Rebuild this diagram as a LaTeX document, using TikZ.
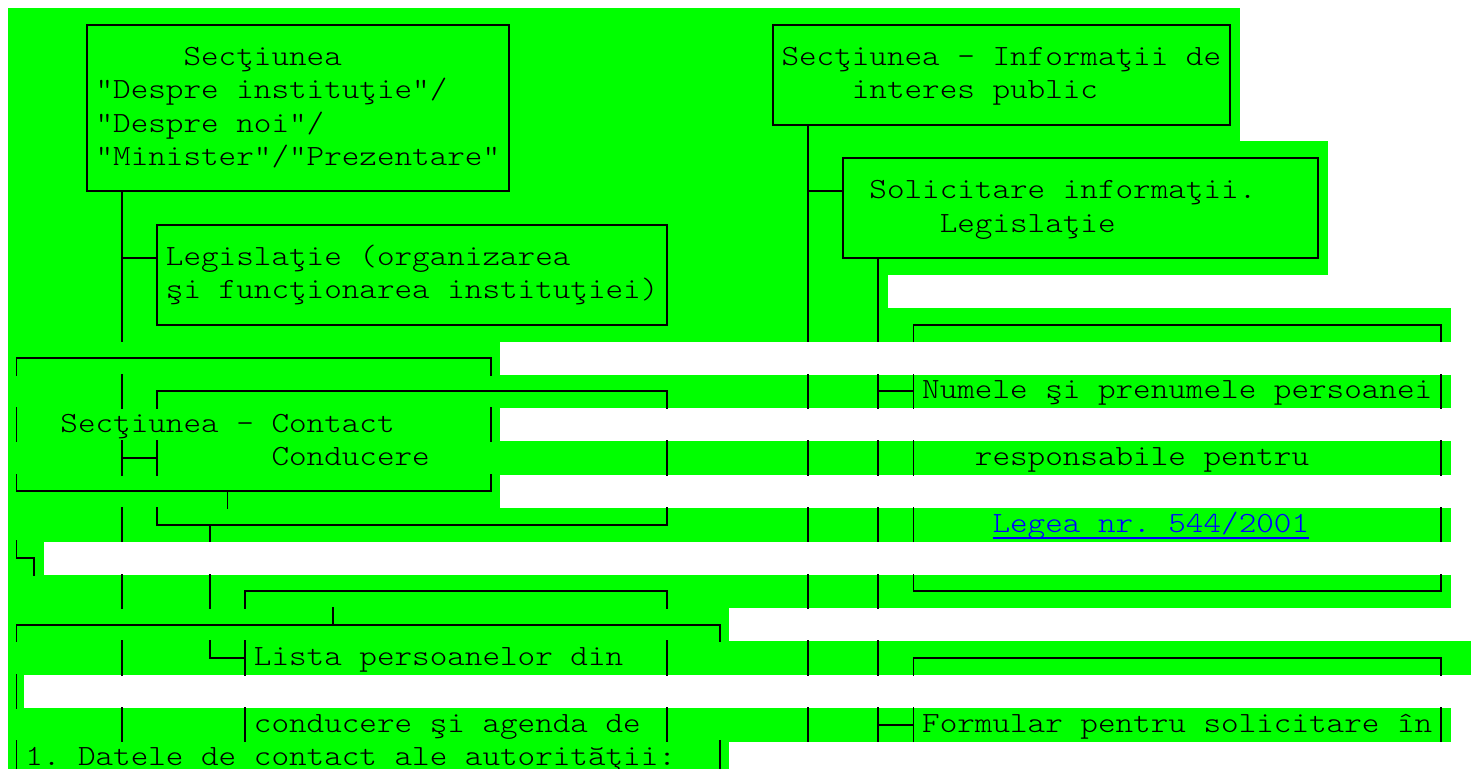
\documentclass[tikz,border=0pt]{standalone}
\usepackage{fontspec}
\newfontfamily\cmono{lmmonolt10-regular.otf}[FakeStretch=1.1429]
\definecolor{hl}{RGB}{0,255,0}
\definecolor{lnkc}{RGB}{0,0,255}
\newcommand\cX[1]{16.5+17.586*(#1)}
\newcommand\rT[1]{8+33.333*(#1)}
\newcommand\rC[1]{24.667+33.333*(#1)}
\newcommand\rB[1]{41.333+33.333*(#1)}
\newcommand\bxV[2]{\draw[ln] ({\cX{#1}},{\rT{#2}}) -- ({\cX{#1}},{\rB{#2}});}
\newcommand\bxD[2]{\draw[ln] ({\cX{#1}},{\rC{#2}}) -- ({\cX{#1}},{\rB{#2}});}
\newcommand\bxU[2]{\draw[ln] ({\cX{#1}},{\rT{#2}}) -- ({\cX{#1}},{\rC{#2}});}
\newcommand\bxH[3]{\draw[ln] ({\cX{#1}},{\rC{#3}}) -- ({\cX{#2}},{\rC{#3}});}
\newcommand\bxTop[3]{\draw[ln] ({\cX{#1}},{\rB{#3}}) -- ({\cX{#1}},{\rC{#3}}) -- ({\cX{#2}},{\rC{#3}}) -- ({\cX{#2}},{\rB{#3}});}
\newcommand\bxBot[3]{\draw[ln] ({\cX{#1}},{\rT{#3}}) -- ({\cX{#1}},{\rC{#3}}) -- ({\cX{#2}},{\rC{#3}}) -- ({\cX{#2}},{\rT{#3}});}
\newcommand\gRow[2]{\fill[hl] (8,{\rT{#1}}) rectangle (#2,{\rT{#1}+33.6});}
\newcommand\tX[4]{\node[txt] (#1) at ({7.707+17.586*(#2)},{32.167+33.333*(#3)}) {#4};}
\tikzset{
  ln/.style={line width=1.8pt, black, line cap=rect},
  txt/.style={inner sep=0pt, outer sep=0pt, anchor=base west,
    font=\cmono\fontsize{29.31}{33.33}\selectfont\frenchspacing},
  lnkline/.style={line width=1.8pt, lnkc}
}
\begin{document}
\begin{tikzpicture}[x=1pt,y=-1pt]
\useasboundingbox (0,0) rectangle (1471,768);
\fill[white] (0,0) rectangle (1471,768);
% green highlight rows
\gRow{0}{1240}\gRow{1}{1240}\gRow{2}{1240}\gRow{3}{1240}
\gRow{4}{1328}\gRow{5}{1328}\gRow{6}{1328}\gRow{7}{1328}
\gRow{8}{888}\gRow{9}{1451}\gRow{10}{500}\gRow{11}{1451}
\gRow{12}{500}\gRow{13}{1451}\gRow{14}{500}\gRow{15}{1451}
\gRow{16}{44}\gRow{17}{1451}\gRow{18}{729}\gRow{19}{1471}
\gRow{20}{24}\gRow{21}{1451}\gRow{22}{729}
% ---------- left column ----------
\bxTop{4}{28}{0}
\bxV{4}{1}\bxV{28}{1}\bxV{4}{2}\bxV{28}{2}\bxV{4}{3}\bxV{28}{3}\bxV{4}{4}\bxV{28}{4}
\bxBot{4}{28}{5}\bxD{6}{5}
\bxV{6}{6}\bxTop{8}{37}{6}
\bxV{6}{7}\bxH{6}{8}{7}\bxV{8}{7}\bxV{37}{7}
\bxV{6}{8}\bxV{8}{8}\bxV{37}{8}
\bxV{6}{9}\bxBot{8}{37}{9}
\bxTop{0}{27}{10}
\bxV{6}{11}\bxTop{8}{37}{11}
\bxV{0}{12}\bxV{27}{12}
\bxV{6}{13}\bxH{6}{8}{13}\bxV{8}{13}\bxV{37}{13}
\bxBot{0}{27}{14}\bxD{12}{14}
\bxV{6}{15}\bxBot{8}{37}{15}\bxD{11}{15}
\draw[ln] ({\cX{0}},{\rT{16}}) -- ({\cX{0}},{\rC{16}}) -- ({\cX{1}},{\rC{16}}) -- ({\cX{1}},{\rB{16}});
\bxV{6}{17}\bxV{11}{17}\bxTop{13}{37}{17}
\bxTop{0}{40}{18}\bxU{18}{18}
\bxV{6}{19}\draw[ln] ({\cX{11}},{\rT{19}}) -- ({\cX{11}},{\rC{19}}) -- ({\cX{13}},{\rC{19}});
\bxV{13}{19}\bxV{37}{19}
\bxV{0}{20}
\bxV{6}{21}\bxV{13}{21}\bxV{37}{21}
\bxV{0}{22}\bxV{40}{22}
% ---------- right column ----------
\bxTop{43}{69}{0}
\bxV{43}{1}\bxV{69}{1}\bxV{43}{2}\bxV{69}{2}
\bxBot{43}{69}{3}\bxD{45}{3}
\bxV{45}{4}\bxTop{47}{74}{4}
\bxV{45}{5}\bxH{45}{47}{5}\bxV{47}{5}\bxV{74}{5}
\bxV{45}{6}\bxV{47}{6}\bxV{74}{6}
\bxV{45}{7}\bxBot{47}{74}{7}\bxD{49}{7}
\bxV{45}{8}\bxV{49}{8}
\bxV{45}{9}\bxV{49}{9}\bxTop{51}{81}{9}
\bxV{45}{11}\bxV{49}{11}\bxH{49}{51}{11}\bxV{51}{11}\bxV{81}{11}
\bxV{45}{13}\bxV{49}{13}\bxV{51}{13}\bxV{81}{13}
\bxV{45}{15}\bxV{49}{15}\bxV{51}{15}\bxV{81}{15}
\bxV{45}{17}\bxV{49}{17}\bxBot{51}{81}{17}
\bxV{45}{19}\bxV{49}{19}\bxTop{51}{81}{19}
\bxV{45}{21}\bxV{49}{21}\bxH{49}{51}{21}\bxV{51}{21}\bxV{81}{21}
% ---------- texts ----------
\tX{la}{10}{1}{Secţiunea}
\tX{lb}{5}{2}{"Despre instituţie"/}
\tX{lc}{5}{3}{"Despre noi"/}
\tX{ld}{5}{4}{"Minister"/"Prezentare"}
\tX{le}{9}{7}{Legislaţie (organizarea}
\tX{lf}{9}{8}{şi funcţionarea instituţiei)}
\tX{lg}{3}{12}{Secţiunea - Contact}
\tX{lh}{15}{13}{Conducere}
\tX{li}{14}{19}{Lista persoanelor din}
\tX{lj}{14}{21}{conducere şi agenda de}
\tX{lk}{1}{22}{1. Datele de contact ale autorităţii:}
\tX{ra}{44}{1}{Secţiunea - Informaţii de}
\tX{rb}{48}{2}{interes public}
\tX{rc}{49}{5}{Solicitare informaţii.}
\tX{rd}{53}{6}{Legislaţie}
\tX{re}{52}{11}{Numele şi prenumele persoanei}
\tX{rf}{55}{13}{responsabile pentru}
\tX{legea}{56}{15}{\color{lnkc}Legea nr. 544/2001}
\tX{rh}{52}{21}{Formular pentru solicitare în}
\draw[lnkline] ([yshift=-6pt]legea.base west) -- ([yshift=-6pt]legea.base east);
\end{tikzpicture}
\end{document}
